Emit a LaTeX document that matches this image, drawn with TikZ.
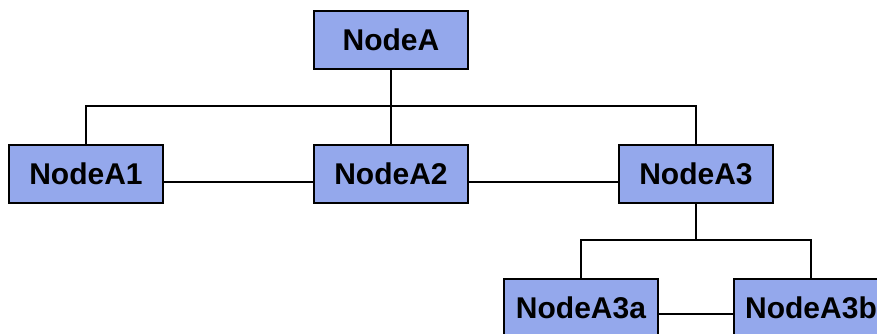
\documentclass[tikz,border=0pt]{standalone}
\usepackage{fontspec}
\setmainfont{Liberation Sans}
\definecolor{boxfill}{RGB}{148,168,236}
\begin{document}
\begin{tikzpicture}[x=1pt,y=-1pt,
  box/.style={draw=black,line width=2pt,fill=boxfill,minimum width=154pt,minimum height=58pt,inner sep=0pt,font=\fontsize{30}{30}\selectfont\bfseries},
  link/.style={draw=black,line width=2pt}]
\useasboundingbox (0,0) rectangle (877,334);
\clip (0,0) rectangle (877,334);
\node[box] (A) at (391,40) {NodeA};
\node[box] (A1) at (86,174) {NodeA1};
\node[box] (A2) at (391,174) {NodeA2};
\node[box] (A3) at (696,174) {NodeA3};
\node[box] (A3a) at (581,308) {NodeA3a};
\node[box] (A3b) at (811,308) {NodeA3b};
\coordinate (bar1) at (391,106);
\coordinate (bar2) at (696,240);
\draw[link] (A.south) -- (bar1);
\draw[link] (A1.north) |- (bar1) -| (A3.north);
\draw[link] (bar1) -- (A2.north);
\draw[link] ([yshift=-8pt]A1.east) -- ([yshift=-8pt]A2.west);
\draw[link] ([yshift=-8pt]A2.east) -- ([yshift=-8pt]A3.west);
\draw[link] (A3.south) -- (bar2);
\draw[link] (A3a.north) |- (bar2) -| (A3b.north);
\draw[link] ([yshift=-6pt]A3a.east) -- ([yshift=-6pt]A3b.west);
\end{tikzpicture}
\end{document}
